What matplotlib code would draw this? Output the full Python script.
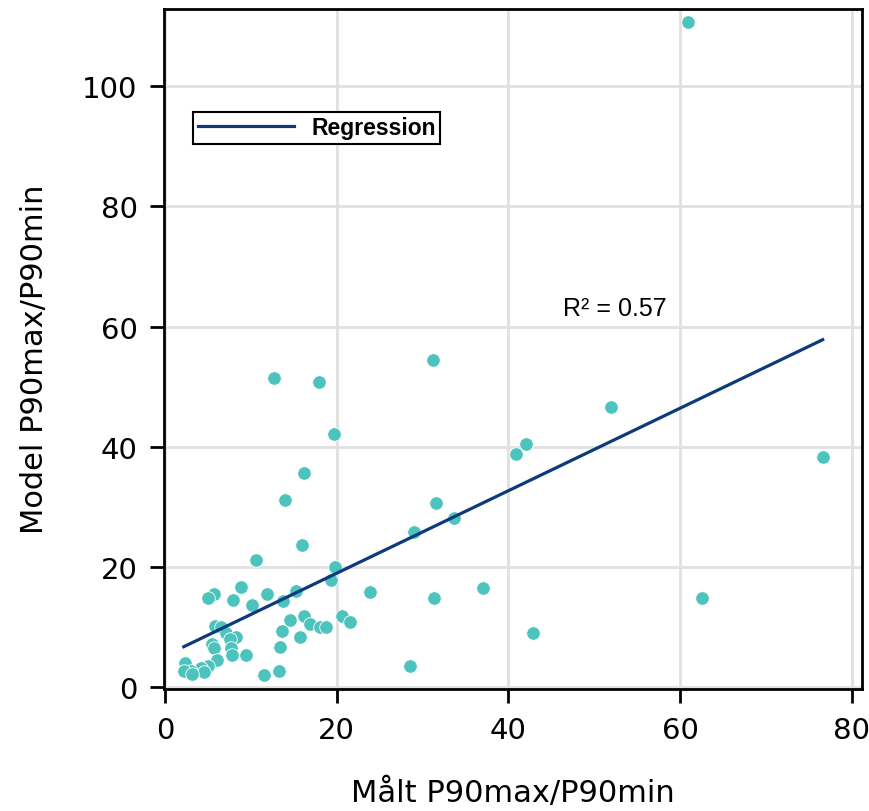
import numpy as np
import matplotlib.pyplot as plt

malt = [60.9, 31.2, 12.7, 17.9, 19.7, 51.9, 42.1, 40.9, 76.6, 16.2,
        14.0, 31.6, 33.7, 29.0, 16.0, 10.6, 19.8, 19.4, 23.9, 8.9,
        5.7, 5.0, 7.9, 11.9, 15.3, 13.7, 10.2, 16.2, 14.6, 16.9,
        20.6, 21.6, 18.1, 18.8, 13.6, 15.7, 5.8, 6.5, 7.1, 8.3,
        7.6, 5.5, 7.7, 5.7, 7.8, 9.5, 13.4, 6.1, 2.4, 5.0,
        4.2, 3.0, 4.6, 2.2, 3.2, 11.6, 13.3, 31.3, 37.0, 28.5,
        42.9, 62.6]
model = [110.6, 54.4, 51.5, 50.7, 42.1, 46.6, 40.5, 38.8, 38.3, 35.6,
         31.1, 30.6, 28.1, 25.9, 23.7, 21.1, 20.1, 17.8, 15.9, 16.7,
         15.6, 14.8, 14.6, 15.6, 16.1, 14.4, 13.7, 11.8, 11.2, 10.6,
         11.8, 10.9, 10.1, 10.1, 9.4, 8.4, 10.2, 10.0, 9.1, 8.3,
         8.0, 7.2, 6.6, 6.6, 5.4, 5.4, 6.7, 4.5, 4.1, 3.6,
         3.2, 2.7, 2.5, 2.7, 2.2, 2.1, 2.7, 14.9, 16.5, 3.5,
         9.0, 14.8]

r2_text = "R\u00b2 = 0.57"

x = np.array(malt)
y = np.array(model)
slope, intercept = np.polyfit(x, y, 1)

fig = plt.figure(figsize=(8.7, 8.12), dpi=100)
ax = fig.add_axes([0.1885, 0.150, 0.8025, 0.8377])

ax.grid(True, color="#e0e0e0", linewidth=2)
ax.set_axisbelow(True)

ax.scatter(x, y, s=95, color="#4dc3be", edgecolors="white", linewidths=0.6, zorder=3)

# regression line over the measured range
xs = np.array([x.min(), x.max()])
ax.plot(xs, slope * xs + intercept, color="#0d3a7a", linewidth=2.3, zorder=4, label="Regression")

ax.text(52.4, 63.0, r2_text, fontsize=18, family="Liberation Sans", va="center", ha="center")

ax.set_xlim(-0.1, 81.2)
ax.set_ylim(-0.3, 112.8)
ax.set_xticks([0, 20, 40, 60, 80])
ax.set_yticks([0, 20, 40, 60, 80, 100])

for s in ax.spines.values():
    s.set_linewidth(2)
ax.tick_params(width=2, length=10, labelsize=21, pad=9)

ax.set_xlabel("Målt P90max/P90min", fontsize=22, va="top")
ax.xaxis.set_label_coords(0.5, -0.128)
ax.set_ylabel("Model P90max/P90min", fontsize=22)
ax.yaxis.set_label_coords(-0.165, 0.487)

leg = ax.legend(loc="upper left", bbox_to_anchor=(0.042, 0.849), borderaxespad=0,
                fancybox=False, framealpha=1, edgecolor="black", borderpad=0.2,
                prop={"family": "Liberation Sans", "size": 16.5, "weight": "bold"},
                handlelength=4.2, handletextpad=0.75)
leg.get_frame().set_linewidth(1.5)

fig.savefig("out.png", dpi=100)
